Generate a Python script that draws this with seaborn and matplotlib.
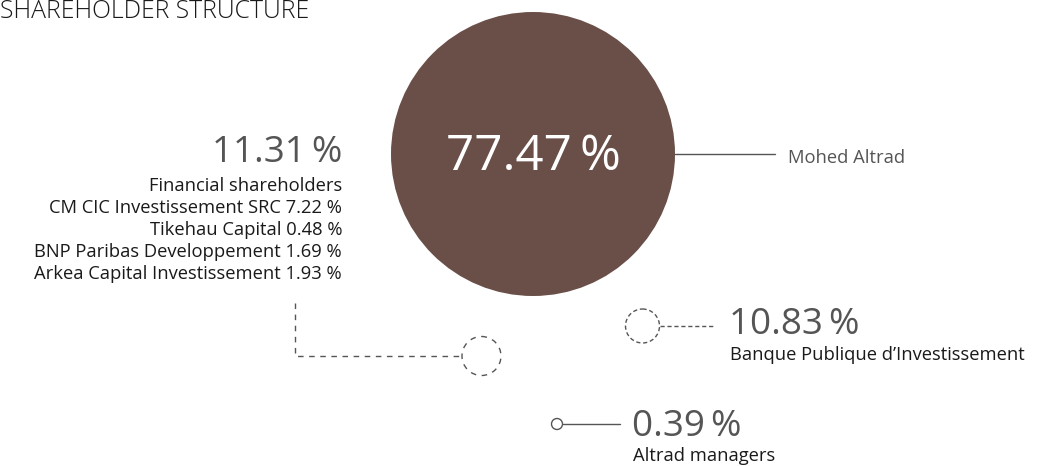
import matplotlib
matplotlib.use("Agg")
import matplotlib.pyplot as plt
from matplotlib.patches import Circle
import seaborn as sns

# ---- data ----
holders = ["Mohed Altrad", "Financial shareholders",
           "Banque Publique d\u2019Investissement", "Altrad managers"]
shares = [77.47, 11.31, 10.83, 0.39]
fin_names = ["CM CIC Investissement SRC", "Tikehau Capital",
             "BNP Paribas Developpement", "Arkea Capital Investissement"]
fin_shares = [7.22, 0.48, 1.69, 1.93]
title = "SHAREHOLDER STRUCTURE"

# ---- layout (pixel space) ----
centers = [(533, 154), (481.5, 356), (642.5, 326), (557, 424)]
radii = [142, 19.5, 17, 5.5]

sns.set_theme(style="white")
plt.rcParams['font.family'] = ['Open Sans', 'DejaVu Sans']

W, H = 1044, 466
fig = plt.figure(figsize=(W / 100, H / 100), dpi=100)
ax = fig.add_axes([0, 0, 1, 1])
ax.set_xlim(0, W)
ax.set_ylim(H, 0)
ax.set_aspect('equal')
ax.axis('off')

brown = "#6a4f48"
gray = "#555555"
dark = "#1a1a1a"
numsize = 26.5
small = 13.2

def pct(v):
    return f"{v:.2f}\u2009%"

# big circle
ax.add_patch(Circle(centers[0], radii[0], facecolor=brown, edgecolor='none'))
ax.text(centers[0][0], 170, pct(shares[0]), color='white', fontsize=35.5,
        ha='center', va='baseline')
ax.plot([centers[0][0] + radii[0], 775], [154, 154], color=gray, lw=1)
ax.text(788, 163, holders[0], color=gray, fontsize=small, ha='left', va='baseline')

# financial shareholders
ax.add_patch(Circle(centers[1], radii[1], facecolor='none', edgecolor=gray,
                    lw=1, linestyle=(0, (4, 4))))
ax.plot([295, 295, centers[1][0] - radii[1]], [303, 356, 356], color=gray,
        lw=1, linestyle=(0, (4, 4)))
ax.text(342, 162, pct(shares[1]), color=gray, fontsize=numsize, ha='right', va='baseline')
lines = [holders[1]] + [f"{n} {v:.2f} %" for n, v in zip(fin_names, fin_shares)]
for i, t in enumerate(lines):
    ax.text(342, 191 + 22 * i, t, color=dark, fontsize=small, ha='right', va='baseline')

# BPI
ax.add_patch(Circle(centers[2], radii[2], facecolor='none', edgecolor=gray,
                    lw=1, linestyle=(0, (3, 2))))
ax.plot([centers[2][0] + radii[2], 713], [326, 326], color=gray, lw=1,
        linestyle=(0, (3, 2)))
ax.text(729, 334, pct(shares[2]), color=gray, fontsize=numsize, ha='left', va='baseline')
ax.text(730, 360, holders[2], color=dark, fontsize=small, ha='left', va='baseline')

# managers
ax.add_patch(Circle(centers[3], radii[3], facecolor='white', edgecolor=gray, lw=1))
ax.plot([centers[3][0] + radii[3], 620], [424, 424], color=gray, lw=1)
ax.text(632, 436, pct(shares[3]), color=gray, fontsize=numsize, ha='left', va='baseline')
ax.text(633, 461, holders[3], color=dark, fontsize=small, ha='left', va='baseline')

# title
ax.text(0, 18, title, color=dark, fontsize=17.8, fontweight='light',
        ha='left', va='baseline')

fig.savefig("out.png", dpi=100)
